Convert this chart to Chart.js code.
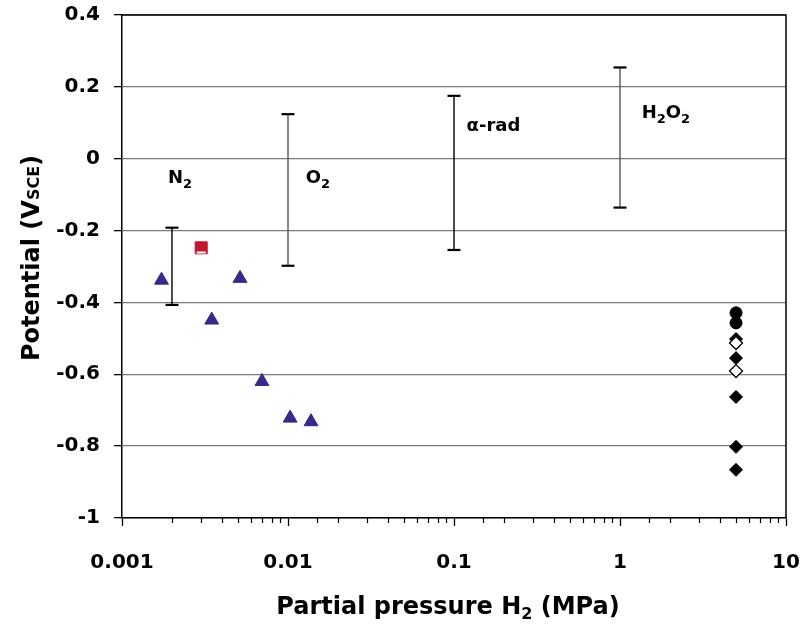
<!DOCTYPE html>
<html>
<head>
<meta charset="utf-8">
<script src="https://cdn.jsdelivr.net/npm/chart.js@4/dist/chart.umd.min.js"></script>
<style>
  html, body { margin: 0; padding: 0; background: #fff; }
  #wrap { width: 801px; height: 635px; }
</style>
</head>
<body>
<div id="wrap"><canvas id="potChart" width="801" height="635"></canvas></div>
<script>
// Data
const triX = [0.00173, 0.00347, 0.00514, 0.00697, 0.0103, 0.01376];
const triY = [-0.338, -0.449, -0.333, -0.620, -0.722, -0.732];

const sqX = [0.003];
const sqY = [-0.248];
const sqLineY = [-0.261];

const circX = [5, 5];
const circY = [-0.429, -0.457];

const diaX = [5, 5, 5, 5, 5];
const diaY = [-0.502, -0.555, -0.663, -0.802, -0.866];

const openDiaX = [5, 5];
const openDiaY = [-0.513, -0.591];

// error bars (N2, O2, alpha-rad, H2O2)
const errX = [0.002, 0.01, 0.1, 1];
const errLow = [-0.407, -0.298, -0.254, -0.136];
const errHigh = [-0.192, 0.124, 0.175, 0.254];
const errColor = ['#000', '#555', '#000', '#555'];

// text labels inside the plot
const noteText = ['N_2', 'O_2', '\u03b1-rad', 'H_2O_2'];
const noteX = [0.00189, 0.0128, 0.119, 1.35];
const noteY = [-0.068, -0.068, 0.078, 0.112];

const yTicks = { min: -1, max: 0.4, step: 0.2 };
const xRange = { min: 0.001, max: 10 };

const FONT = "'DejaVu Sans', sans-serif";

function pts(xs, ys) {
    return xs.map((x, i) => ({ x: x, y: ys[i] }));
}

function isDecade(v) {
    const l = Math.log10(v);
    return Math.abs(l - Math.round(l)) < 1e-9;
}

// split "H_2O_2" or "V_{SCE}" into normal / subscript parts
function parts(str) {
    const out = [];
    let i = 0, buf = '';
    while (i < str.length) {
        if (str[i] === '_') {
            if (buf) { out.push([buf, false]); buf = ''; }
            if (str[i + 1] === '{') {
                const end = str.indexOf('}', i);
                out.push([str.slice(i + 2, end), true]);
                i = end + 1;
            } else {
                out.push([str[i + 1], true]);
                i += 2;
            }
        } else {
            buf += str[i];
            i++;
        }
    }
    if (buf) out.push([buf, false]);
    return out;
}

function richWidth(ctx, segs, size, subSize) {
    let w = 0;
    segs.forEach(s => {
        ctx.font = 'bold ' + (s[1] ? subSize : size) + 'px ' + FONT;
        w += ctx.measureText(s[0]).width;
    });
    return w;
}

function drawRich(ctx, str, x, y, size, subSize, subDrop) {
    const segs = parts(str);
    ctx.textBaseline = 'alphabetic';
    ctx.textAlign = 'left';
    let cx = x;
    segs.forEach(s => {
        ctx.font = 'bold ' + (s[1] ? subSize : size) + 'px ' + FONT;
        ctx.fillText(s[0], cx, s[1] ? y + subDrop : y);
        cx += ctx.measureText(s[0]).width;
    });
}

const extrasPlugin = {
    id: 'extras',
    afterDraw(chart) {
        const ctx = chart.ctx;
        const area = chart.chartArea;
        const xs = chart.scales.x;
        const ys = chart.scales.y;
        ctx.save();

        // frame: top and right edges
        ctx.strokeStyle = '#000';
        ctx.lineWidth = 1.5;
        ctx.beginPath();
        ctx.moveTo(area.left, area.top);
        ctx.lineTo(area.right, area.top);
        ctx.lineTo(area.right, area.bottom);
        ctx.stroke();

        // minor ticks on the log axis
        ctx.lineWidth = 1.2;
        xs.ticks.forEach(t => {
            if (isDecade(t.value)) return;
            const px = Math.round(xs.getPixelForValue(t.value)) + 0.5;
            ctx.beginPath();
            ctx.moveTo(px, area.bottom);
            ctx.lineTo(px, area.bottom + 5);
            ctx.stroke();
        });

        // notes
        ctx.fillStyle = '#000';
        noteText.forEach((txt, i) => {
            drawRich(ctx, txt, xs.getPixelForValue(noteX[i]), ys.getPixelForValue(noteY[i]), 18, 13, 5);
        });

        // x title
        const xt = 'Partial pressure H_2 (MPa)';
        const xw = richWidth(ctx, parts(xt), 24, 16);
        drawRich(ctx, xt, (area.left + area.right) / 2 - xw / 2 - 6, 614, 24, 16, 5);

        // y title, rotated
        const yt = 'Potential (V_{SCE})';
        const yw = richWidth(ctx, parts(yt), 24, 16);
        ctx.translate(39, 258);
        ctx.rotate(-Math.PI / 2);
        drawRich(ctx, yt, -yw / 2, 0, 24, 16, 0);
        ctx.restore();
    }
};

const datasets = [];

// open diamonds first so they sit on top
datasets.push({
    data: pts(openDiaX, openDiaY),
    pointStyle: 'rectRot', pointRadius: 6.5,
    backgroundColor: '#fff', borderColor: '#000', borderWidth: 1.3
});
datasets.push({
    data: pts(diaX, diaY),
    pointStyle: 'rectRot', pointRadius: 6.5,
    backgroundColor: '#000', borderColor: '#000', borderWidth: 1
});
datasets.push({
    data: pts(circX, circY),
    pointStyle: 'circle', pointRadius: 6,
    backgroundColor: '#000', borderColor: '#000', borderWidth: 1
});
datasets.push({
    data: pts(sqX, sqLineY),
    pointStyle: 'line', pointRadius: 4.5,
    backgroundColor: '#fff', borderColor: '#fff', borderWidth: 2
});
datasets.push({
    data: pts(sqX, sqY),
    pointStyle: 'rect', pointRadius: 8.5,
    backgroundColor: '#c0182e', borderColor: '#c0182e', borderWidth: 1
});
datasets.push({
    data: pts(triX, triY),
    pointStyle: 'triangle', pointRadius: 8,
    backgroundColor: '#37288a', borderColor: '#37288a', borderWidth: 1
});

errX.forEach((x, i) => {
    datasets.push({
        type: 'line',
        data: [{ x: x, y: errLow[i] }, { x: x, y: errHigh[i] }],
        showLine: true,
        borderColor: errColor[i],
        borderWidth: 1.4,
        pointStyle: 'line',
        pointRadius: 6.5,
        pointBorderColor: '#000',
        pointBorderWidth: 2.2,
        fill: false
    });
});

new Chart(document.getElementById('potChart').getContext('2d'), {
    type: 'scatter',
    data: { datasets },
    options: {
        responsive: false,
        animation: false,
        events: [],
        layout: { padding: { top: 15, right: 15, left: 0, bottom: 0 } },
        plugins: {
            legend: { display: false },
            tooltip: { enabled: false }
        },
        scales: {
            x: {
                type: 'logarithmic',
                min: xRange.min,
                max: xRange.max,
                afterFit: s => {
                    s.height = 117;
                    s.paddingLeft = 0;
                    s.paddingRight = 0;
                },
                border: { color: '#000', width: 1.5 },
                grid: {
                    drawOnChartArea: false,
                    drawTicks: true,
                    tickLength: 8,
                    tickWidth: 1.3,
                    tickColor: c => (c.tick && isDecade(c.tick.value)) ? '#000' : 'rgba(0,0,0,0)'
                },
                ticks: {
                    autoSkip: false,
                    maxRotation: 0,
                    padding: 25,
                    color: '#000',
                    font: { family: FONT, size: 20, weight: 'bold' },
                    callback: v => isDecade(v) ? String(Number(Number(v).toPrecision(1))) : ''
                }
            },
            y: {
                min: yTicks.min,
                max: yTicks.max,
                afterFit: s => {
                    s.width = 122;
                    s.paddingTop = 0;
                    s.paddingBottom = 0;
                },
                border: { color: '#000', width: 1.5 },
                grid: {
                    color: '#7a7a7a',
                    lineWidth: 1.3,
                    tickLength: 8,
                    tickColor: '#000',
                    tickWidth: 1.3
                },
                ticks: {
                    stepSize: yTicks.step,
                    padding: 14,
                    color: '#000',
                    font: { family: FONT, size: 20, weight: 'bold' },
                    callback: v => String(Math.round(v * 10) / 10)
                }
            }
        }
    },
    plugins: [extrasPlugin]
});
</script>
</body>
</html>
